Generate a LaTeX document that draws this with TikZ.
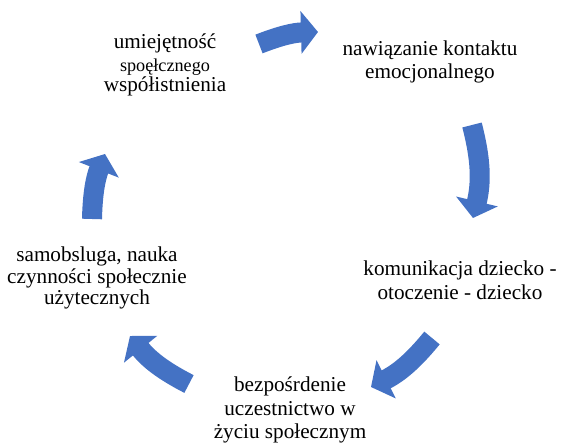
\documentclass[tikz,border=0pt]{standalone}
\usepackage{fontspec}
\setmainfont{Liberation Serif}
\usetikzlibrary{calc,arrows.meta}
\usetikzlibrary{positioning}
\definecolor{cycleblue}{HTML}{4472C4}

\begin{document}
\begin{tikzpicture}[
    x=0.5pt, y=-0.5pt,
    text style/.style={align=center, inner sep=0pt, font=\fontsize{10.6}{11.8}\selectfont},
    every edge/.style={draw=cycleblue, line width=10pt, -{Triangle[length=8.5pt, width=21pt]}}
]

% FIXED BOUNDING BOX (whole image)
\path[use as bounding box] (0,0) rectangle (564,444);

\node[text style] (A) at (430,62) {nawiązanie kontaktu\\emocjonalnego};
\node[text style] (B) at (460,280) {komunikacja dziecko -\\otoczenie - dziecko};
\node[text style] (C) at (290,410) {bezpośrdenie\\uczestnictwo w\\życiu społecznym};
\node[text style, font=\fontsize{10.6}{10.9}\selectfont] (D) at (97,278) {samobsluga, nauka\\czynności społecznie\\użytecznych};
\node[text style] (E) at (165,65) {umiejętność\\{\fontsize{9.1}{10}\selectfont spoęłcznego}\\[-1.8pt]współistnienia};

\coordinate (P1) at (259,44);  \coordinate (Q1) at (318,32);
\coordinate (P2) at (472,125); \coordinate (Q2) at (473,218);
\coordinate (P3) at (432,338); \coordinate (Q3) at (371,387);
\coordinate (P4) at (189,384); \coordinate (Q4) at (130,336);
\coordinate (P5) at (92,219);  \coordinate (Q5) at (105,154);

\path (P1) edge[bend left=10] (Q1);
\path (P2) edge[bend left=14] (Q2);
\path (P3) edge[bend left=12] (Q3);
\path (P4) edge[bend left=12] (Q4);
\path (P5) edge[bend left=10] (Q5);

\end{tikzpicture}
\end{document}
